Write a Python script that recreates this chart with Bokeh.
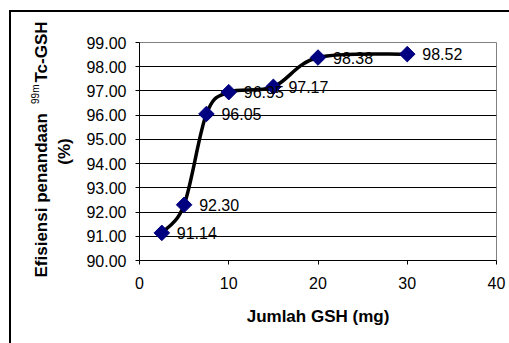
import math
from bokeh.plotting import figure
from bokeh.models import Label, FixedTicker, PrintfTickFormatter, Range1d
from bokeh.core.properties import value
from bokeh.embed import file_html
from bokeh.resources import INLINE

# ---- data ----
gsh_mg = [2.5, 5, 7.5, 10, 15, 20, 30]
efficiency = [91.14, 92.30, 96.05, 96.95, 97.17, 98.38, 98.52]
point_labels = ["91.14", "92.30", "96.05", "96.95", "97.17", "98.38", "98.52"]
x_ticks = [0, 10, 20, 30, 40]
y_ticks = [90, 91, 92, 93, 94, 95, 96, 97, 98, 99]
x_title = "Jumlah GSH (mg)"
y_title_main = "Efisiensi penandaan"
y_title_sup = "99m"
y_title_end = "Tc-GSH"
y_title_unit = "(%)"

FONT = "Liberation Sans"
FS = "16px"
TFS = "17px"
W, H = 509, 343
FL, FR, FT, FB = 139, 496, 42, 260
XMIN, XMAX = x_ticks[0], x_ticks[-1]
YMIN, YMAX = y_ticks[0], y_ticks[-1]

p = figure(width=W, height=H, x_range=Range1d(XMIN, XMAX), y_range=Range1d(YMIN, YMAX),
           output_backend="svg", toolbar_location=None,
           min_border_left=FL, min_border_right=W - FR,
           min_border_top=FT, min_border_bottom=H - FB)
p.background_fill_color = "white"
p.border_fill_color = "white"
p.border_fill_alpha = 0
p.outline_line_color = "#808080"
p.outline_line_width = 1
# outer chart border (only its left and top edges fall inside the picture), drawn as CSS
p.styles = {
    "background-color": "white",
    "background-image": "linear-gradient(#000, #000), linear-gradient(#000, #000)",
    "background-repeat": "no-repeat",
    "background-position": "9px 10px, 9px 10px",
    "background-size": "2px 1000px, 1000px 2px",
}


def dx(px):
    return XMIN + (px - FL) / (FR - FL) * (XMAX - XMIN)


def dy(py):
    return YMAX - (py - FT) / (FB - FT) * (YMAX - YMIN)


# axes
for ax in (p.xaxis, p.yaxis):
    ax.axis_line_color = "black"
    ax.axis_line_width = 1
    ax.major_tick_line_color = "black"
    ax.major_tick_out = 4
    ax.major_tick_in = 0
    ax.minor_tick_line_color = None
    ax.major_label_text_font = FONT
    ax.major_label_text_font_size = FS
    ax.major_label_text_color = "black"
p.xaxis.ticker = FixedTicker(ticks=x_ticks)
p.yaxis.ticker = FixedTicker(ticks=y_ticks)
p.yaxis.formatter = PrintfTickFormatter(format="%.2f")
p.yaxis.major_label_standoff = 9
p.xaxis.major_label_standoff = 12
p.xgrid.visible = False
p.ygrid.ticker = FixedTicker(ticks=y_ticks)
p.ygrid.grid_line_color = "black"
p.ygrid.grid_line_width = 1

# smoothed line (Catmull-Rom style bezier through the points)
n = len(gsh_mg)


def pt(i):
    i = max(0, min(n - 1, i))
    return gsh_mg[i], efficiency[i]


x0, y0, x1, y1, cx0, cy0, cx1, cy1 = [], [], [], [], [], [], [], []
for i in range(n - 1):
    a, b, c, d = pt(i - 1), pt(i), pt(i + 1), pt(i + 2)
    x0.append(b[0]); y0.append(b[1]); x1.append(c[0]); y1.append(c[1])
    cx0.append(b[0] + (c[0] - a[0]) / 6); cy0.append(b[1] + (c[1] - a[1]) / 6)
    cx1.append(c[0] - (d[0] - b[0]) / 6); cy1.append(c[1] - (d[1] - b[1]) / 6)
p.bezier(x0=x0, y0=y0, x1=x1, y1=y1, cx0=cx0, cy0=cy0, cx1=cx1, cy1=cy1,
         line_color="black", line_width=3.5, line_cap="round")

p.scatter(gsh_mg, efficiency, marker="square", angle=math.pi / 4, size=11,
          fill_color="#000080", line_color="#000080")

p.text(x=gsh_mg, y=efficiency, text=point_labels, x_offset=15,
       text_baseline="middle", text_align="left",
       text_font=value(FONT), text_font_size=FS, text_color="black")

# titles (placed in side panels so they are not clipped to the frame)
p.add_layout(Label(x=dx(317.5), y=dy(316), text=x_title, text_align="center",
                   text_baseline="middle", text_font=FONT, text_font_size=TFS,
                   text_font_style="bold", text_color="black"), "below")
p.add_layout(Label(x=dx(41), y=dy(277), text=y_title_main, angle=math.pi / 2,
                   text_align="left", text_baseline="middle", text_font=FONT,
                   text_font_size=TFS, text_font_style="bold", text_color="black"), "left")
p.add_layout(Label(x=dx(41), y=dy(21), text=y_title_end, angle=math.pi / 2,
                   text_align="right", text_baseline="middle", text_font=FONT,
                   text_font_size=TFS, text_font_style="bold", text_color="black"), "left")
p.add_layout(Label(x=dx(35), y=dy(84), text=y_title_sup, angle=math.pi / 2,
                   text_align="right", text_baseline="middle", text_font=FONT,
                   text_font_size="10px", text_color="black"), "left")
p.add_layout(Label(x=dx(64), y=dy(151), text=y_title_unit, angle=math.pi / 2,
                   text_align="center", text_baseline="middle", text_font=FONT,
                   text_font_size=TFS, text_font_style="bold", text_color="black"), "left")

open("out.html", "w").write(file_html(p, INLINE))
